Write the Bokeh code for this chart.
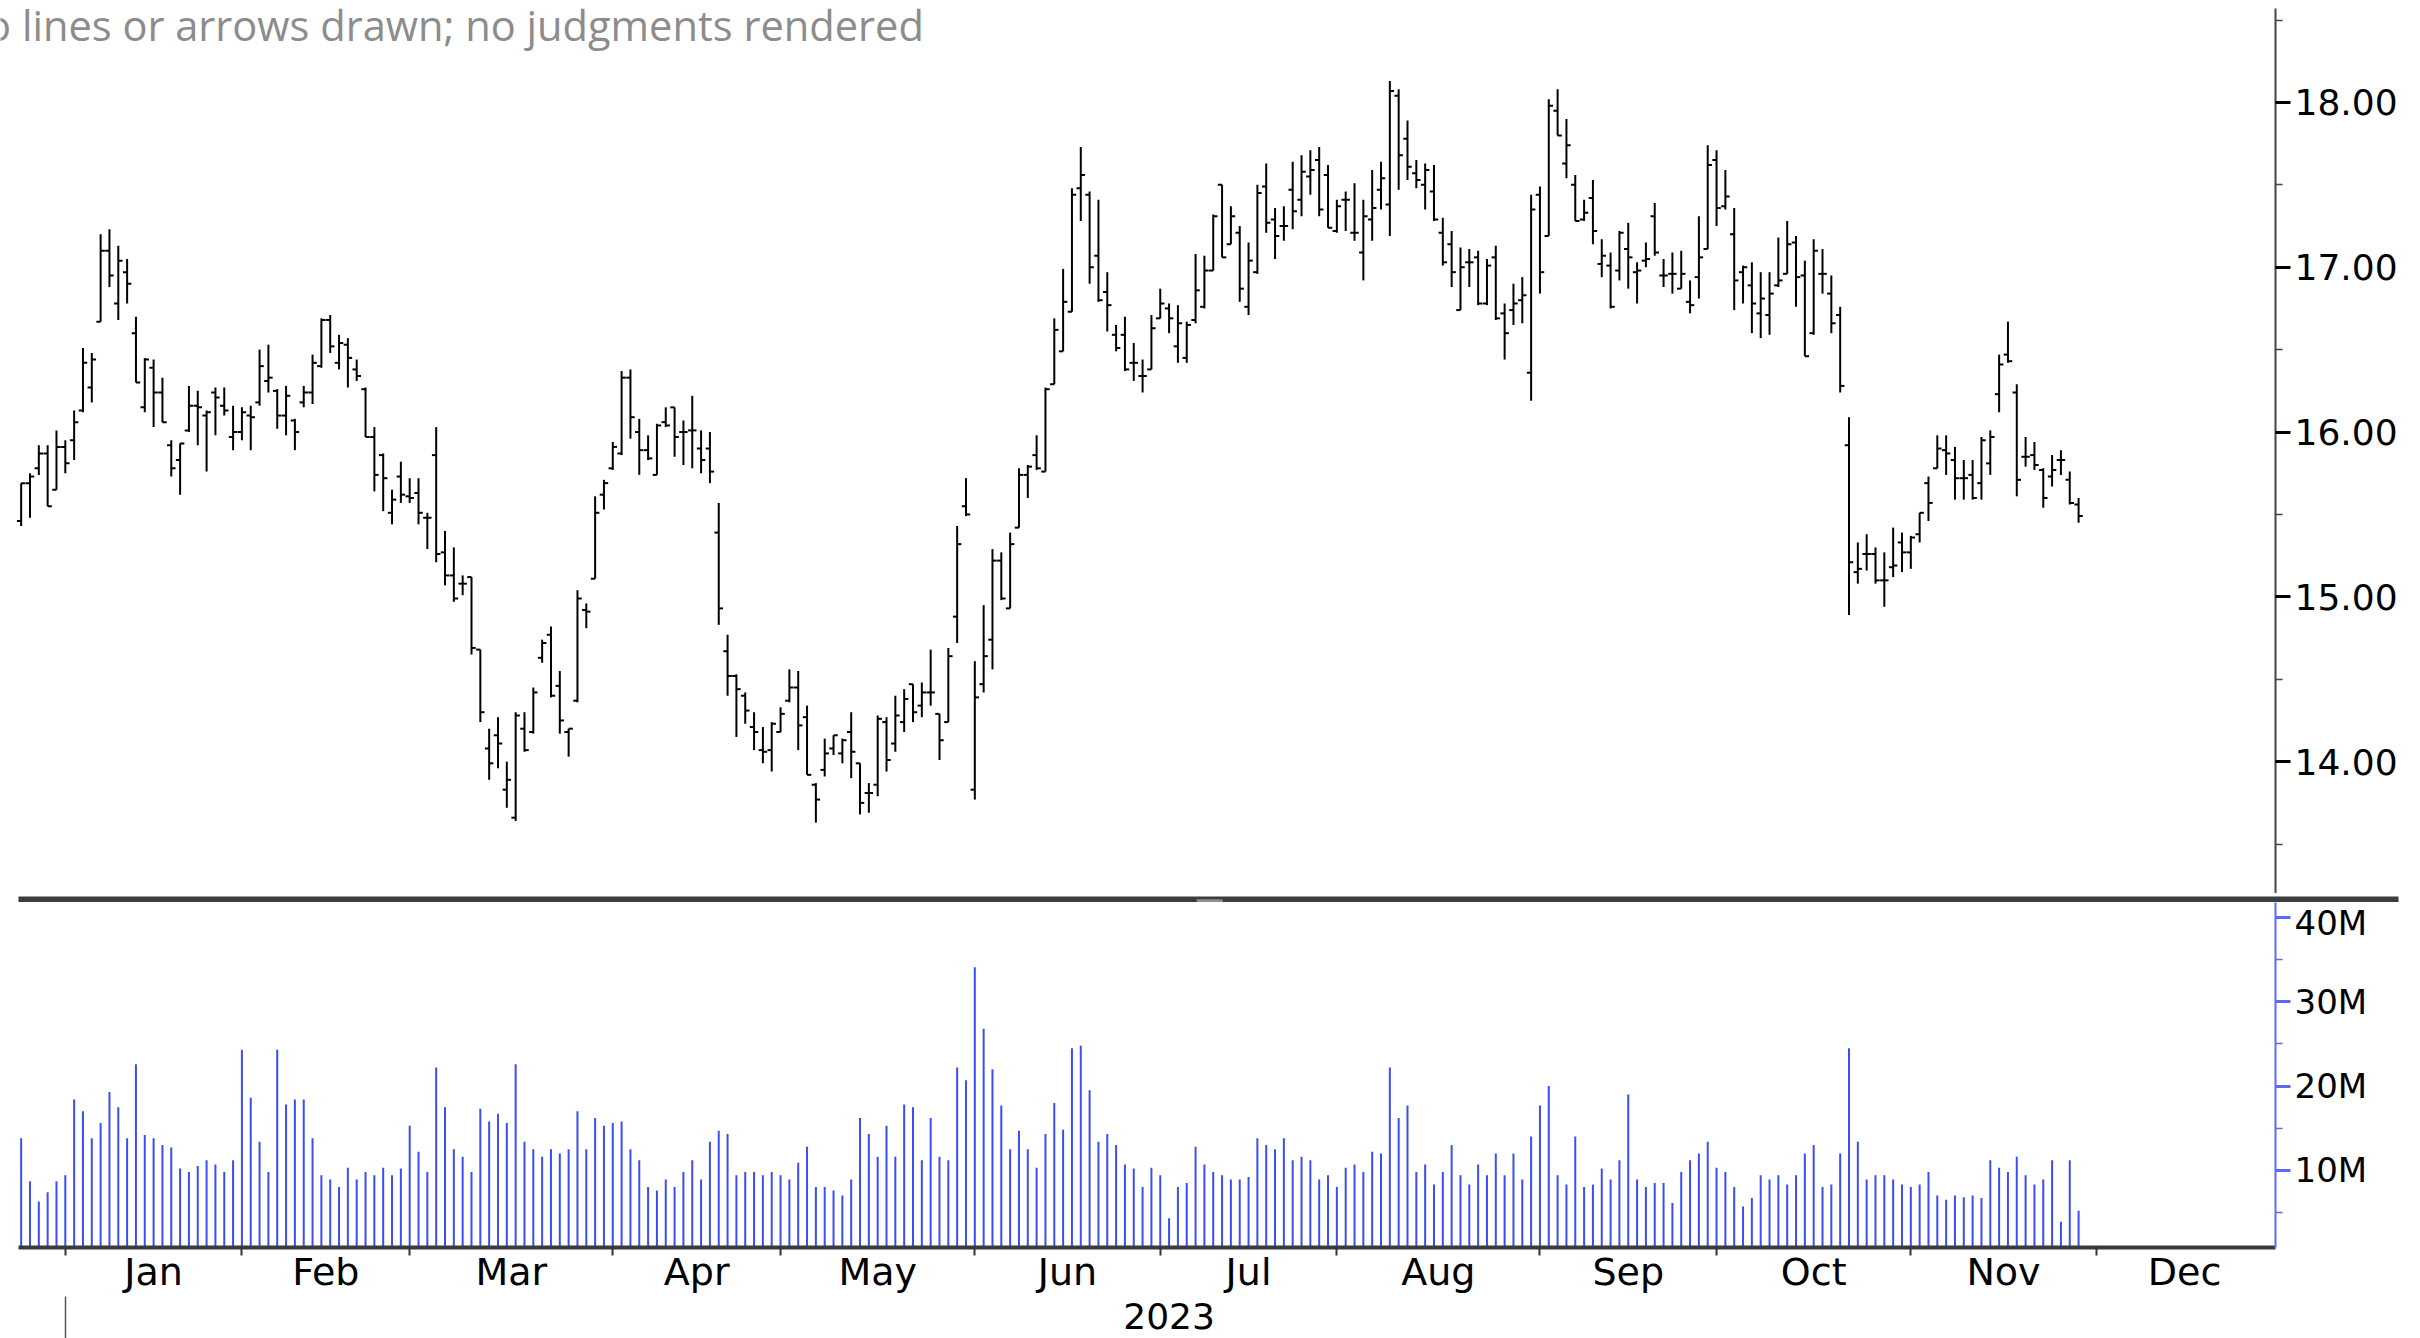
from bokeh.plotting import figure
from bokeh.layouts import column
from bokeh.models import FixedTicker, Label, LinearAxis, Range1d, ColumnDataSource, NumeralTickFormatter
from bokeh.embed import file_html
from bokeh.resources import INLINE

# trading-day index: 0 = first session of Jan 2023; -5..-1 = last sessions of Dec 2022
day = list(range(-5, 229))

opens = [
    15.46, 15.69, 15.78, 15.87, 15.65, 15.91, 15.95, 16.13, 16.27, 16.67,
    17.10, 16.78, 16.97, 16.60, 16.15, 16.39, 16.24, 15.92, 15.83, 16.01,
    16.16, 16.10, 16.24, 16.16, 15.97, 16.00, 16.10, 16.18, 16.31, 16.25,
    16.10, 16.07, 16.18, 16.24, 16.40, 16.68, 16.42, 16.53, 16.38, 16.26,
    15.97, 15.86, 15.51, 15.73, 15.61, 15.63, 15.48, 15.86, 15.27, 15.13,
    15.08, 15.12, 14.68, 14.08, 14.16, 13.83, 13.66, 14.20, 14.18, 14.63,
    14.77, 14.46, 14.18, 14.37, 14.92, 15.11, 15.62, 15.78, 15.87, 16.33,
    16.00, 15.89, 15.74, 16.06, 16.15, 16.00, 16.01, 15.90, 15.90, 15.39,
    14.67, 14.52, 14.40, 14.21, 14.07, 14.07, 14.18, 14.37, 14.45, 14.27,
    13.86, 13.95, 14.08, 14.05, 14.18, 13.99, 13.81, 13.86, 14.24, 14.11,
    14.24, 14.47, 14.34, 14.42, 14.29, 14.24, 14.88, 15.55, 13.83, 14.47,
    14.74, 15.22, 14.93, 15.42, 15.74, 15.86, 15.76, 16.29, 16.49, 16.73,
    17.48, 17.44, 17.07, 16.85, 16.59, 16.59, 16.42, 16.34, 16.38, 16.69,
    16.75, 16.52, 16.45, 16.68, 16.76, 16.98, 17.50, 17.14, 17.21, 16.76,
    16.97, 17.49, 17.29, 17.25, 17.47, 17.41, 17.55, 17.65, 17.56, 17.22,
    17.41, 17.21, 17.09, 17.29, 17.47, 17.38, 18.04, 17.78, 17.57, 17.50,
    17.46, 17.21, 17.14, 16.74, 17.03, 17.06, 16.78, 17.06, 16.72, 16.74,
    16.80, 16.36, 17.44, 17.19, 17.95, 17.63, 17.50, 17.29, 17.42, 17.02,
    17.01, 16.98, 17.11, 16.97, 17.04, 17.31, 16.95, 16.96, 16.87, 16.79,
    16.94, 17.11, 17.65, 17.37, 17.20, 16.97, 16.89, 16.72, 16.71, 16.89,
    16.96, 17.15, 16.95, 16.60, 16.96, 16.84, 16.71, 15.92, 15.15, 15.26,
    15.26, 15.10, 15.18, 15.33, 15.27, 15.38, 15.69, 15.78, 15.89, 15.83,
    15.72, 15.74, 15.69, 15.81, 16.23, 16.47, 16.24, 15.85, 15.86, 15.77,
    15.73, 15.83, 15.71, 15.56,
]

highs = [
    15.69, 15.75, 15.92, 15.92, 16.01, 15.95, 16.13, 16.51, 16.48, 17.20,
    17.23, 17.13, 17.05, 16.70, 16.45, 16.44, 16.33, 15.95, 15.93, 16.28,
    16.25, 16.13, 16.27, 16.27, 16.16, 16.15, 16.16, 16.50, 16.53, 16.26,
    16.28, 16.08, 16.28, 16.47, 16.69, 16.71, 16.59, 16.57, 16.44, 16.27,
    16.03, 15.87, 15.65, 15.82, 15.72, 15.72, 15.51, 16.03, 15.40, 15.30,
    15.13, 15.12, 14.68, 14.20, 14.27, 14.00, 14.30, 14.30, 14.45, 14.74,
    14.82, 14.55, 14.20, 15.04, 14.96, 15.61, 15.71, 15.94, 16.37, 16.38,
    16.08, 15.98, 16.05, 16.15, 16.15, 16.07, 16.22, 16.01, 16.00, 15.57,
    14.77, 14.53, 14.42, 14.30, 14.21, 14.24, 14.33, 14.56, 14.55, 14.34,
    13.87, 14.14, 14.16, 14.14, 14.30, 13.99, 13.87, 14.28, 14.27, 14.40,
    14.44, 14.47, 14.48, 14.68, 14.29, 14.69, 15.43, 15.72, 14.61, 14.95,
    15.29, 15.27, 15.39, 15.78, 15.80, 15.98, 16.27, 16.69, 16.99, 17.48,
    17.73, 17.46, 17.41, 16.97, 16.65, 16.70, 16.54, 16.44, 16.71, 16.87,
    16.78, 16.77, 16.67, 17.08, 17.07, 17.32, 17.50, 17.37, 17.25, 17.15,
    17.50, 17.63, 17.36, 17.37, 17.64, 17.68, 17.71, 17.73, 17.62, 17.41,
    17.46, 17.51, 17.41, 17.59, 17.64, 18.13, 18.08, 17.89, 17.65, 17.63,
    17.62, 17.30, 17.22, 17.12, 17.11, 17.10, 17.05, 17.13, 16.78, 16.90,
    16.94, 17.44, 17.49, 18.02, 18.08, 17.90, 17.56, 17.41, 17.53, 17.17,
    17.09, 17.22, 17.27, 17.03, 17.15, 17.39, 17.05, 17.09, 17.10, 16.92,
    17.31, 17.74, 17.71, 17.59, 17.36, 17.01, 17.03, 16.97, 16.97, 17.18,
    17.28, 17.19, 17.04, 17.17, 17.11, 16.95, 16.76, 16.09, 15.33, 15.38,
    15.30, 15.27, 15.42, 15.39, 15.37, 15.51, 15.73, 15.98, 15.98, 15.91,
    15.83, 15.83, 15.97, 16.01, 16.47, 16.67, 16.29, 15.97, 15.94, 15.78,
    15.86, 15.89, 15.76, 15.60,
]

lows = [
    15.43, 15.48, 15.74, 15.55, 15.65, 15.75, 15.83, 16.12, 16.18, 16.67,
    16.88, 16.68, 16.78, 16.30, 16.12, 16.03, 16.06, 15.73, 15.62, 16.00,
    15.92, 15.76, 15.98, 16.10, 15.89, 15.95, 15.89, 16.16, 16.24, 16.02,
    15.98, 15.89, 16.15, 16.17, 16.39, 16.48, 16.38, 16.27, 16.31, 15.97,
    15.64, 15.52, 15.44, 15.57, 15.57, 15.44, 15.29, 15.21, 15.07, 14.97,
    15.01, 14.65, 14.24, 13.89, 13.96, 13.72, 13.64, 14.06, 14.17, 14.60,
    14.39, 14.17, 14.03, 14.36, 14.81, 15.11, 15.53, 15.77, 15.86, 15.96,
    15.74, 15.83, 15.74, 16.03, 15.85, 15.80, 15.78, 15.75, 15.69, 14.83,
    14.40, 14.15, 14.23, 14.07, 13.99, 13.94, 14.18, 14.36, 14.07, 13.92,
    13.63, 13.91, 14.04, 13.99, 13.90, 13.68, 13.69, 13.79, 13.94, 14.06,
    14.18, 14.24, 14.27, 14.34, 14.01, 14.24, 14.72, 15.49, 13.77, 14.42,
    14.56, 14.98, 14.93, 15.42, 15.60, 15.77, 15.76, 16.29, 16.49, 16.73,
    17.28, 16.90, 16.79, 16.61, 16.49, 16.37, 16.31, 16.24, 16.38, 16.69,
    16.60, 16.42, 16.42, 16.66, 16.75, 16.98, 17.06, 17.14, 16.79, 16.71,
    16.96, 17.21, 17.05, 17.16, 17.23, 17.31, 17.44, 17.31, 17.24, 17.21,
    17.22, 17.16, 16.92, 17.16, 17.35, 17.19, 17.47, 17.53, 17.48, 17.35,
    17.28, 17.01, 16.88, 16.74, 16.88, 16.77, 16.77, 16.68, 16.44, 16.65,
    16.66, 16.19, 16.84, 17.19, 17.80, 17.54, 17.28, 17.28, 17.14, 16.94,
    16.75, 16.92, 16.87, 16.78, 17.00, 17.07, 16.88, 16.84, 16.87, 16.72,
    16.81, 17.11, 17.25, 17.35, 16.74, 16.78, 16.60, 16.57, 16.59, 16.88,
    16.96, 16.76, 16.46, 16.59, 16.84, 16.60, 16.24, 14.89, 15.08, 15.16,
    15.08, 14.94, 15.12, 15.15, 15.17, 15.33, 15.46, 15.78, 15.74, 15.59,
    15.59, 15.59, 15.59, 15.74, 16.12, 16.42, 15.61, 15.79, 15.77, 15.54,
    15.67, 15.74, 15.56, 15.45,
]

closes = [
    15.69, 15.73, 15.87, 15.55, 15.91, 15.81, 16.06, 16.42, 16.44, 17.10,
    16.95, 17.04, 16.90, 16.30, 16.44, 16.24, 16.06, 15.78, 15.93, 16.16,
    16.15, 16.12, 16.21, 16.13, 16.00, 16.12, 16.09, 16.40, 16.33, 16.10,
    16.22, 16.00, 16.24, 16.42, 16.68, 16.52, 16.54, 16.45, 16.34, 15.97,
    15.74, 15.72, 15.59, 15.62, 15.60, 15.51, 15.48, 15.26, 15.13, 14.99,
    15.08, 14.69, 14.30, 13.99, 14.11, 13.89, 14.28, 14.07, 14.42, 14.72,
    14.40, 14.25, 14.20, 14.99, 14.91, 15.51, 15.69, 15.91, 16.33, 16.09,
    15.89, 15.84, 16.04, 16.04, 15.97, 16.00, 16.01, 15.83, 15.76, 14.93,
    14.52, 14.44, 14.31, 14.18, 14.06, 14.23, 14.29, 14.45, 14.22, 13.92,
    13.77, 14.05, 14.16, 14.13, 14.06, 13.75, 13.81, 14.26, 14.01, 14.28,
    14.38, 14.30, 14.42, 14.42, 14.13, 14.64, 15.32, 15.50, 14.39, 14.64,
    15.22, 14.99, 15.32, 15.74, 15.79, 15.78, 16.26, 16.62, 16.79, 17.44,
    17.56, 17.00, 16.80, 16.77, 16.51, 16.38, 16.42, 16.34, 16.63, 16.78,
    16.69, 16.66, 16.65, 16.86, 16.98, 17.31, 17.06, 17.31, 16.87, 17.04,
    17.45, 17.27, 17.19, 17.25, 17.34, 17.58, 17.59, 17.35, 17.24, 17.37,
    17.41, 17.21, 17.31, 17.36, 17.54, 18.07, 17.68, 17.61, 17.53, 17.59,
    17.29, 17.03, 16.97, 17.00, 17.03, 16.78, 17.01, 16.69, 16.60, 16.78,
    16.83, 17.35, 16.97, 17.98, 17.80, 17.74, 17.28, 17.33, 17.22, 17.07,
    16.76, 17.21, 17.06, 16.98, 17.05, 17.09, 16.95, 16.96, 16.96, 16.77,
    17.06, 17.62, 17.36, 17.43, 16.92, 17.00, 16.78, 16.81, 16.84, 16.92,
    17.14, 16.94, 16.46, 17.10, 16.96, 16.66, 16.28, 15.21, 15.17, 15.26,
    15.10, 15.10, 15.19, 15.27, 15.36, 15.51, 15.57, 15.90, 15.87, 15.72,
    15.72, 15.60, 15.95, 15.97, 16.41, 16.43, 15.71, 15.85, 15.80, 15.60,
    15.77, 15.83, 15.57, 15.49,
]

# volume in millions of shares
volume_m = [
    13.8, 8.7, 6.3, 7.4, 8.7, 9.4, 18.4, 17.0, 13.8, 15.6,
    19.3, 17.5, 13.8, 22.6, 14.2, 13.8, 13.0, 12.7, 10.2, 9.8,
    10.5, 11.2, 10.7, 9.8, 11.2, 24.3, 18.6, 13.4, 9.8, 24.3,
    17.8, 18.4, 18.4, 13.8, 9.4, 8.9, 8.0, 10.3, 8.9, 9.8,
    9.4, 10.3, 9.4, 10.2, 15.3, 12.2, 9.8, 22.2, 17.5, 12.5,
    11.6, 9.8, 17.3, 15.8, 16.7, 15.6, 22.6, 13.4, 12.5, 11.6,
    12.5, 12.0, 12.5, 17.0, 12.5, 16.2, 15.3, 15.6, 15.8, 12.5,
    11.2, 8.0, 7.6, 8.9, 8.0, 9.8, 11.2, 8.9, 13.4, 14.7,
    14.3, 9.4, 9.8, 9.8, 9.4, 9.8, 9.4, 8.9, 10.9, 12.8,
    8.0, 8.0, 7.6, 7.0, 8.9, 16.2, 14.3, 11.6, 15.3, 11.6,
    17.8, 17.5, 11.2, 16.2, 11.6, 11.2, 22.2, 20.7, 34.1, 26.8,
    22.0, 17.7, 12.5, 14.7, 12.5, 10.3, 14.3, 18.0, 14.8, 24.5,
    24.8, 19.5, 13.4, 14.3, 13.0, 10.7, 10.2, 8.0, 10.3, 9.4,
    4.3, 8.0, 8.5, 12.8, 10.7, 9.8, 9.4, 8.9, 8.9, 9.2,
    13.8, 13.0, 12.5, 13.8, 11.2, 11.6, 11.2, 8.9, 9.4, 8.0,
    10.3, 10.7, 9.8, 12.2, 12.0, 22.2, 16.2, 17.7, 9.8, 10.7,
    8.3, 9.8, 13.0, 9.4, 8.3, 10.7, 9.4, 12.0, 9.4, 12.0,
    8.9, 14.0, 17.7, 20.0, 9.4, 8.3, 14.0, 8.0, 8.3, 10.2,
    8.9, 11.2, 19.0, 8.9, 8.0, 8.5, 8.5, 6.1, 9.8, 11.2,
    12.0, 13.4, 10.3, 9.8, 8.0, 5.7, 6.7, 9.4, 8.9, 9.4,
    8.3, 9.4, 12.0, 13.0, 8.0, 8.3, 12.0, 24.5, 13.4, 8.9,
    9.4, 9.4, 8.9, 8.3, 8.0, 8.3, 9.8, 7.0, 6.5, 7.0,
    6.8, 7.0, 6.7, 11.2, 10.3, 9.8, 11.6, 9.4, 8.3, 8.9,
    11.2, 3.9, 11.2, 5.2,
]

# first session index of each month, Jan..Dec 2023, plus the end of December
month_start = [0, 20, 39, 62, 81, 103, 124, 144, 167, 187, 209, 230, 250]
month_names = ["Jan", "Feb", "Mar", "Apr", "May", "Jun",
               "Jul", "Aug", "Sep", "Oct", "Nov", "Dec"]
year_label = "2023"

price_major = [14, 15, 16, 17, 18]
price_minor = [13.5, 14.5, 15.5, 16.5, 17.5, 18.5]
vol_major = [10, 20, 30, 40]
vol_minor = [5, 15, 25, 35]

note_text = "No lines or arrows drawn; no judgments rendered"

FONT = "DejaVu Sans"
W = 2410
TICK = 0.48
X_END = 250.3

src = ColumnDataSource(dict(
    x=day, o=opens, h=highs, l=lows, c=closes,
    xl=[d - TICK for d in day], xr=[d + TICK for d in day],
    v=volume_m, v0=[0] * len(day),
))

# ---------------- price panel (frame from page x=0 to 2275) ----------------
p = figure(width=W, height=893, x_range=Range1d(-7.34, X_END), y_range=Range1d(13.20, 18.57),
           output_backend="svg", toolbar_location=None,
           x_axis_location=None, y_axis_location="right",
           min_border_left=0, min_border_right=W - 2275, min_border_top=8, min_border_bottom=0)
p.frame_align = False
p.outline_line_color = None
p.grid.visible = False
p.background_fill_color = "white"
p.border_fill_color = "white"

p.segment(x0="x", y0="l", x1="x", y1="h", source=src, line_color="black", line_width=2)
p.segment(x0="xl", y0="o", x1="x", y1="o", source=src, line_color="black", line_width=2)
p.segment(x0="x", y0="c", x1="xr", y1="c", source=src, line_color="black", line_width=2)

ya = p.yaxis[0]
ya.ticker = FixedTicker(ticks=price_major, minor_ticks=price_minor)
ya.formatter = NumeralTickFormatter(format="0.00")
ya.axis_line_color = "#444444"
ya.axis_line_width = 2
ya.major_tick_in = 0
ya.major_tick_out = 15
ya.major_tick_line_width = 3
ya.major_tick_line_color = "black"
ya.minor_tick_in = 0
ya.minor_tick_out = 7
ya.minor_tick_line_color = "#444444"
ya.minor_tick_line_width = 1.5
ya.major_label_standoff = 4
ya.major_label_text_font = FONT
ya.major_label_text_font_size = "36px"
ya.major_label_text_color = "black"

p.add_layout(Label(x=-12.52, y=18.47, text=note_text, text_font="Open Sans",
                   text_font_size="41.6px", text_color="#8c8c8c",
                   text_align="left", text_baseline="alphabetic"))

# ---------------- separator bar ----------------
sep = figure(width=W, height=9, x_range=Range1d(0, 1), y_range=Range1d(0, 1),
             output_backend="svg", toolbar_location=None,
             x_axis_location=None, y_axis_location=None,
             min_border_left=18, min_border_right=W - 2398, min_border_top=0, min_border_bottom=0)
sep.frame_align = False
sep.outline_line_color = None
sep.grid.visible = False
sep.background_fill_color = "#3d3d3d"
sep.border_fill_color = "white"
sep.quad(left=[0.495], right=[0.506], bottom=[0.3], top=[0.7], fill_color="#8e8e8e", line_color=None)

# ---------------- volume panel (frame from page x=18 to 2275) ----------------
v = figure(width=W, height=436, x_range=Range1d(-5.3, X_END), y_range=Range1d(0.83, 41.8),
           output_backend="svg", toolbar_location=None,
           x_axis_location="below", y_axis_location="right",
           min_border_left=18, min_border_right=W - 2275, min_border_top=0, min_border_bottom=91)
v.frame_align = False
v.outline_line_color = None
v.grid.visible = False
v.border_fill_color = "white"

v.segment(x0="x", y0="v0", x1="x", y1="v", source=src, line_color="#3b4ef2", line_width=2)

vy = v.yaxis[0]
vy.ticker = FixedTicker(ticks=vol_major, minor_ticks=vol_minor)
vy.major_label_overrides = {t: f"{t}M" for t in vol_major}
vy.axis_line_color = "#5a6cf5"
vy.axis_line_width = 2
vy.major_tick_in = 0
vy.major_tick_out = 15
vy.major_tick_line_width = 3
vy.major_tick_line_color = "#5a6cf5"
vy.minor_tick_in = 0
vy.minor_tick_out = 7
vy.minor_tick_line_color = "#5a6cf5"
vy.minor_tick_line_width = 1.5
vy.major_label_standoff = 4
vy.major_label_text_font = FONT
vy.major_label_text_font_size = "34px"
vy.major_label_text_color = "black"

month_mid = [(month_start[i] + month_start[i + 1]) / 2 for i in range(12)]
vx = v.xaxis[0]
vx.ticker = FixedTicker(ticks=month_mid, minor_ticks=month_start[:12])
vx.major_label_overrides = {m: n for m, n in zip(month_mid, month_names)}
vx.axis_line_color = "#3a3a3a"
vx.axis_line_width = 4
vx.major_tick_in = 0
vx.major_tick_out = 0
vx.minor_tick_in = 0
vx.minor_tick_out = 8
vx.minor_tick_line_color = "#333333"
vx.minor_tick_line_width = 2
vx.major_label_standoff = -6
vx.major_label_text_font = FONT
vx.major_label_text_font_size = "38px"
vx.major_label_text_color = "black"

year_mid = (month_start[0] + month_start[12]) / 2
yr = LinearAxis(ticker=FixedTicker(ticks=[year_mid], minor_ticks=[month_start[0]]))
yr.major_label_overrides = {year_mid: year_label}
yr.axis_line_color = None
yr.major_tick_out = 0
yr.major_tick_in = 0
yr.minor_tick_in = 0
yr.minor_tick_out = 45
yr.minor_tick_line_color = "#555555"
yr.minor_tick_line_width = 1.5
yr.major_label_standoff = -39
yr.major_label_text_font = FONT
yr.major_label_text_font_size = "36px"
yr.major_label_text_color = "black"
v.add_layout(yr, "below")

layout = column(p, sep, v, spacing=0)
open("out.html", "w").write(file_html(layout, INLINE))
